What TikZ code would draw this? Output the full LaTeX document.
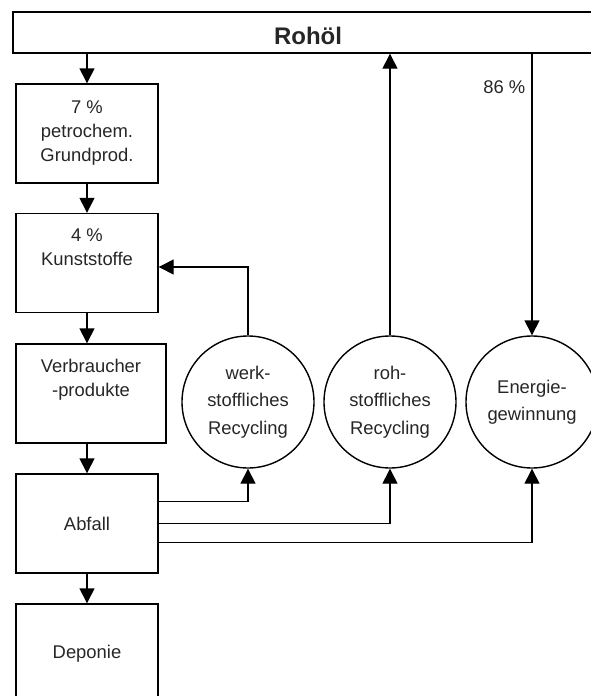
\documentclass[tikz,border=0pt]{standalone}
\usepackage{fontspec}
\setmainfont{Liberation Sans}
\usetikzlibrary{arrows.meta,positioning,calc}

\begin{document}
\begin{tikzpicture}[x=1pt,y=-1pt,>={Triangle[length=15pt,width=15pt]},line width=1.4pt,
      box/.style={draw,minimum width=142pt,minimum height=99pt,inner sep=0pt,align=center,
        text=black!85,font=\fontsize{18.4}{24}\selectfont},
      stage/.style={draw,circle,minimum size=132pt,inner sep=0pt,align=center,
        text=black!85,font=\fontsize{18.4}{27.5}\selectfont}]
    \useasboundingbox (0,0) rectangle (590,696);
    \node[draw,minimum width=590pt,minimum height=41pt,inner sep=0pt,text height=24pt,
      text=black!85,font=\fontsize{24}{28}\selectfont\bfseries] (rohoel) at (308,32.5) {Rohöl};
    \node[box] (petro) at (87,133.5) {7 \%\\petrochem.\\Grundprod.};
    \node[box] (kunst) at (87,263) {4 \%\\Kunststoffe\\\strut};
    \node[box,minimum width=150pt] (verb) at (91,393.5) {Verbraucher\\-produkte\\\strut};
    \node[box] (abfall) at (87,523.5) {Abfall};
    \node[box] (depo) at (87,653.5) {Deponie};
    \node[stage] (werk) at (248,402) {werk-\\stoffliches\\Recycling};
    \node[stage] (roh) at (390,402) {roh-\\stoffliches\\Recycling};
    \node[stage] (energie) at (532,402) {Energie-\\gewinnung};
    \draw[->] (petro.north |- rohoel.south) -- (petro.north);
    \foreach \u/\v in {petro/kunst,kunst/verb,verb/abfall,abfall/depo}
      \draw[->] (\u.south -| petro.south) -- (\v.north -| petro.south);
    \draw[->] (werk.north) |- ($(kunst.east)+(0,4)$);
    \draw[->] (roh.north) -- (roh.north |- rohoel.south);
    \draw[->] (energie.north |- rohoel.south) -- node[pos=0.12,left,inner sep=6pt,text=black!85,
      font=\fontsize{18.4}{24}\selectfont] {86 \%} (energie.north);
    \draw[->] ($(abfall.east)+(0,-22)$) -| (werk.south);
    \draw[->] (abfall.east) -| (roh.south);
    \draw[->] ($(abfall.east)+(0,19)$) -| (energie.south);
  \end{tikzpicture}
\end{document}
